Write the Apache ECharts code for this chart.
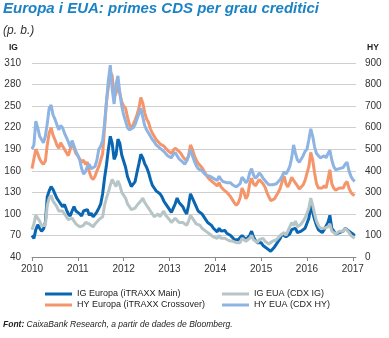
<!DOCTYPE html>
<html><head><meta charset="utf-8">
<script src="https://cdn.jsdelivr.net/npm/echarts@6/dist/echarts.min.js"></script>
<style>html,body{margin:0;padding:0;background:#fff}#c{width:389px;height:338px}</style>
</head><body><div id="c"></div>
<script>
// ---- Data (semi-monthly readings: 1st and 16th of each month, Jan 2010 - Jan 2017) ----
const seriesNames = ['IG Europa (iTRAXX Main)', 'HY Europa (iTRAXX Crossover)', 'IG EUA (CDX IG)', 'HY EUA (CDX HY)'];
const yearTicks = [2010, 2011, 2012, 2013, 2014, 2015, 2016, 2017];

// IG Europa (left axis, p. b.)
const igEuropa = [
  70, 66, 78, 85, 80, 76, 79, 88, 124, 132, 138, 134, 128, 122, 118, 114, 110, 113, 106, 100, 97, 104, 110, 104,
  106, 100, 97, 104, 102, 106, 98, 101, 96, 99, 103, 108, 114, 128, 150, 168, 190, 208, 198, 176, 182, 204, 198, 182,
  180, 165, 152, 145, 138, 136, 145, 158, 170, 183, 178, 170, 165, 158, 148, 140, 136, 132, 134, 128, 124, 118, 114, 110,
  108, 102, 108, 114, 122, 116, 118, 110, 104, 100, 112, 128, 122, 116, 110, 104, 106, 100, 98, 92, 88, 86, 84, 80,
  78, 75, 80, 76, 74, 77, 73, 71, 70, 67, 64, 62, 64, 66, 70, 67, 64, 62, 70, 76, 68, 63, 60, 62,
  60, 56, 54, 52, 50, 48, 50, 54, 58, 62, 66, 72, 74, 68, 66, 72, 78, 76, 80, 74, 72, 76, 74, 80,
  78, 94, 112, 102, 92, 84, 78, 76, 74, 78, 76, 88, 98, 80, 76, 72, 70, 74, 72, 76, 80, 82, 76, 74,
  72, 70
];
// HY Europa (right axis, p. b.)
const hyEuropa = [
  410, 405, 500, 480, 455, 440, 430, 445, 520, 575, 600, 565, 545, 520, 505, 530, 515, 500, 485, 470, 500, 530, 505, 480,
  470, 455, 440, 450, 430, 440, 395, 370, 360, 375, 400, 420, 450, 480, 600, 720, 790, 860, 840, 740, 760, 800, 760, 720,
  700, 690, 650, 615, 600, 615, 635, 660, 690, 740, 715, 670, 640, 625, 595, 575, 560, 545, 550, 525, 530, 515, 505, 495,
  490, 480, 495, 505, 510, 490, 480, 465, 455, 445, 470, 520, 500, 470, 450, 435, 440, 415, 400, 385, 370, 360, 355, 345,
  340, 330, 345, 325, 315, 320, 300, 290, 280, 265, 250, 240, 250, 275, 320, 300, 270, 285, 340, 365, 340, 330, 345, 360,
  355, 340, 325, 300, 280, 262, 258, 270, 285, 300, 320, 350, 375, 340, 325, 345, 370, 355, 360, 330, 315, 325, 335, 355,
  360, 420, 485, 450, 390, 340, 320, 315, 320, 330, 320, 360, 405, 340, 320, 310, 305, 320, 315, 320, 340, 350, 320, 300,
  290, 285
];
// IG EUA (left axis, p. b.)
const igEUA = [
  78, 86, 98, 100, 90, 84, 82, 84, 112, 122, 126, 118, 116, 110, 104, 106, 104, 100, 96, 92, 90, 94, 90, 86,
  84, 82, 80, 84, 88, 90, 86, 84, 82, 86, 88, 92, 90, 96, 112, 122, 130, 140, 148, 150, 138, 146, 140, 130,
  128, 122, 114, 110, 106, 104, 108, 112, 110, 118, 122, 116, 112, 108, 104, 100, 96, 98, 100, 96, 100, 104, 98, 96,
  92, 88, 90, 94, 92, 88, 90, 88, 86, 84, 90, 98, 94, 90, 86, 88, 84, 80, 82, 76, 74, 72, 70, 68,
  68, 66, 70, 66, 65, 66, 64, 63, 62, 62, 60, 60, 61, 60, 66, 64, 62, 60, 66, 70, 64, 62, 60, 64,
  64, 66, 62, 60, 58, 60, 62, 60, 64, 66, 70, 72, 74, 70, 76, 82, 88, 84, 90, 82, 80, 86, 90, 94,
  96, 108, 122, 112, 100, 90, 84, 80, 78, 80, 78, 82, 86, 76, 74, 72, 72, 76, 74, 76, 80, 82, 74, 70,
  68, 66
];
// HY EUA (right axis, p. b.)
const hyEUA = [
  500, 520, 630, 600, 560, 545, 530, 560, 620, 690, 705, 660, 640, 615, 590, 610, 600, 575, 555, 535, 510, 540, 515, 490,
  470, 450, 410, 385, 395, 420, 430, 410, 405, 420, 450, 500, 515, 540, 620, 720, 820, 890, 780, 710, 800, 840, 760, 700,
  660, 630, 600, 590, 585, 600, 615, 640, 665, 690, 650, 610, 590, 575, 560, 545, 535, 520, 525, 505, 500, 490, 480, 470,
  470, 460, 475, 485, 470, 455, 450, 440, 430, 445, 470, 495, 470, 445, 425, 410, 415, 400, 390, 380, 385, 375, 370, 365,
  360, 355, 375, 360, 350, 355, 345, 340, 345, 335, 330, 325, 330, 340, 370, 360, 345, 355, 390, 410, 380, 365, 375, 390,
  380, 365, 355, 345, 335, 330, 335, 330, 340, 345, 360, 375, 395, 385, 400, 420, 460, 520, 480, 450, 440, 455, 470, 490,
  500, 545, 595, 560, 510, 480, 470, 460, 465, 470, 460, 480, 495, 450, 420, 405, 400, 410, 405, 415, 430, 440, 400, 375,
  360, 350
];

// Calendar positions (1st and 16th of each month) as decimal years
const dates = [];
for (let y = 2010; y <= 2017; y++) {
  for (let m = 0; m < 12; m++) {
    for (const half of [0, 0.5]) {
      if (dates.length < igEuropa.length) dates.push(y + (m + half) / 12);
    }
  }
}

const FONT = '"Liberation Sans", Arial, sans-serif';
const colors = ['#0a66b1', '#f4956b', '#b8c5c7', '#8eb4e3'];
const pair = arr => dates.map((d, i) => [d, arr[i]]);

const chart = echarts.init(document.getElementById('c'), null, {renderer: 'canvas'});
chart.setOption({
  animation: false,
  backgroundColor: '#fff',
  textStyle: {fontFamily: FONT},
  grid: {left: 32, right: 33, top: 63, bottom: 81, containLabel: false},
  xAxis: {
    type: 'value', min: 2010, max: 2017.07,
    axisLine: {show: true, lineStyle: {color: '#8a8a8a', width: 1}},
    axisTick: {show: true, length: 4, customValues: yearTicks, lineStyle: {color: '#8a8a8a'}},
    axisLabel: {customValues: yearTicks, color: '#333', fontSize: 10, margin: 7, fontFamily: FONT,
      formatter: v => String(Math.round(v))},
    splitLine: {show: false}
  },
  yAxis: [
    {type: 'value', position: 'left', min: 40, max: 310, interval: 30,
      axisLine: {show: false}, axisTick: {show: false},
      axisLabel: {color: '#333', fontSize: 10, margin: 11, fontFamily: FONT},
      splitLine: {show: true, lineStyle: {color: '#cfcfcf', width: 1}}},
    {type: 'value', position: 'right', min: 0, max: 900, interval: 100,
      axisLine: {show: false}, axisTick: {show: false},
      axisLabel: {color: '#333', fontSize: 10, margin: 9, fontFamily: FONT},
      splitLine: {show: false}}
  ],
  legend: [
    {orient: 'vertical', left: 45, top: 288.5, padding: 0, itemGap: 0, itemWidth: 27, itemHeight: 3, icon: 'rect',
      data: [seriesNames[0], seriesNames[1]],
      textStyle: {fontSize: 9, lineHeight: 11, color: '#222', fontFamily: FONT}},
    {orient: 'vertical', left: 222, top: 288.5, padding: 0, itemGap: 0, itemWidth: 27, itemHeight: 3, icon: 'rect',
      data: [seriesNames[2], seriesNames[3]],
      textStyle: {fontSize: 9, lineHeight: 11, color: '#222', fontFamily: FONT}}
  ],
  graphic: [
    {type: 'text', left: 3, top: 1, style: {text: 'Europa i EUA: primes CDS per grau creditici',
      font: 'italic bold 15px ' + FONT, fill: '#1b82c5'}},
    {type: 'text', left: 3, top: 25, style: {text: '(p. b.)', font: 'italic 12px ' + FONT, fill: '#333'}},
    {type: 'text', left: 9, top: 43, style: {text: 'IG', font: 'bold 8.5px ' + FONT, fill: '#222'}},
    {type: 'text', left: 367, top: 43, style: {text: 'HY', font: 'bold 8.5px ' + FONT, fill: '#222'}},
    {type: 'text', left: 3, top: 320, style: {
      text: '{b|Font:} CaixaBank Research, a partir de dades de Bloomberg.',
      font: 'italic 8.5px ' + FONT, fill: '#222',
      rich: {b: {fontWeight: 'bold', fontStyle: 'italic', fontSize: 8.5, fontFamily: FONT, fill: '#222'}}}}
  ],
  series: [
    {name: seriesNames[0], type: 'line', yAxisIndex: 0, data: pair(igEuropa), showSymbol: false,
      lineStyle: {width: 3, color: colors[0]}, itemStyle: {color: colors[0]}},
    {name: seriesNames[1], type: 'line', yAxisIndex: 1, data: pair(hyEuropa), showSymbol: false,
      lineStyle: {width: 3, color: colors[1]}, itemStyle: {color: colors[1]}},
    {name: seriesNames[2], type: 'line', yAxisIndex: 0, data: pair(igEUA), showSymbol: false,
      lineStyle: {width: 3, color: colors[2]}, itemStyle: {color: colors[2]}},
    {name: seriesNames[3], type: 'line', yAxisIndex: 1, data: pair(hyEUA), showSymbol: false,
      lineStyle: {width: 3, color: colors[3]}, itemStyle: {color: colors[3]}}
  ]
});
</script>
</body></html>
